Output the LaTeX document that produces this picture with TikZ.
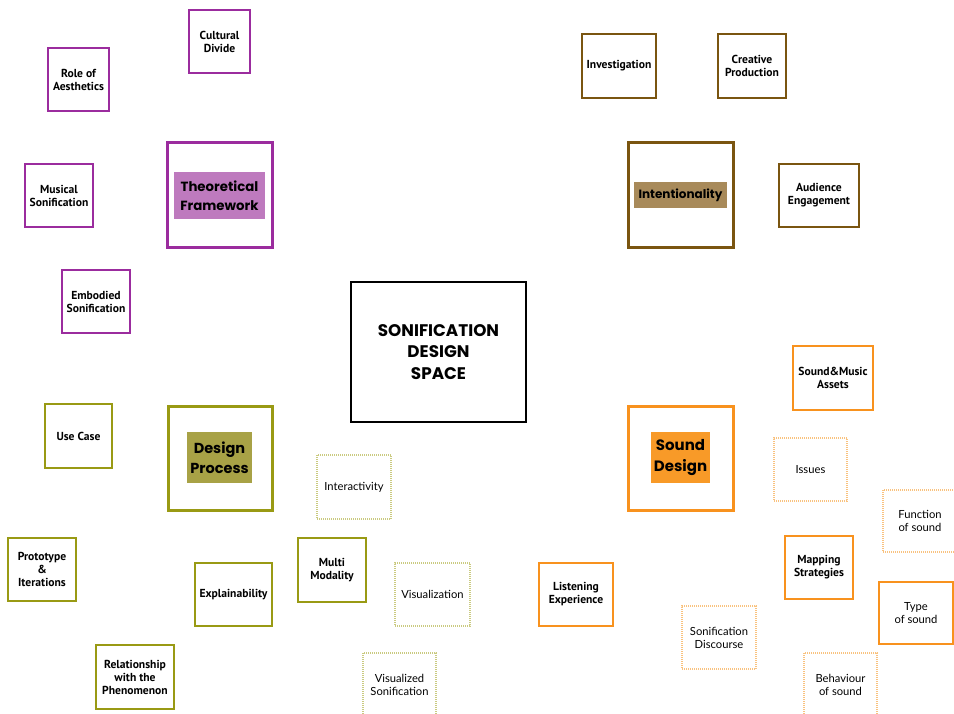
\documentclass[tikz,border=0pt]{standalone}
\usepackage{fontspec}
\setmainfont{PT Sans}
\newfontfamily\headfont{Poppins}
\newfontfamily\softfont{Lato}
\definecolor{plum}{HTML}{9B2C9E}
\definecolor{plumfill}{HTML}{BE7ABE}
\definecolor{umber}{HTML}{7A5510}
\definecolor{umberfill}{HTML}{A88A5A}
\definecolor{olive}{HTML}{999A14}
\definecolor{olivefill}{HTML}{A8A246}
\definecolor{olivelight}{HTML}{CACA80}
\definecolor{amber}{HTML}{F8921E}
\definecolor{amberfill}{HTML}{F89A28}
\definecolor{amberlight}{HTML}{F9C27F}
\tikzset{
  topic/.style={draw=#1, line width=2pt, fill=white, minimum width=68pt,
    minimum height=63pt, inner sep=1pt, align=center,
    font=\bfseries\fontsize{11.6}{13}\selectfont},
  soft/.style={draw=#1, line width=1.3pt, dash pattern=on 1pt off 1pt,
    fill=white, minimum width=74pt, minimum height=63pt, inner sep=1pt,
    align=center, font=\softfont\fontsize{11.2}{13}\selectfont},
  hub/.style={draw=#1, line width=3pt, fill=white, minimum width=105pt,
    minimum height=105pt, inner sep=0pt},
  hublabel/.style={fill=#1, inner sep=0pt, align=center,
    font=\headfont\bfseries\fontsize{13.3}{19}\selectfont},
}
\begin{document}
\begin{tikzpicture}[x=1pt, y=-1pt]
\useasboundingbox (0,0) rectangle (954,714);

% centre
\node[draw=black, line width=2.5pt, minimum width=175pt, minimum height=140pt,
  align=center, font=\headfont\bfseries\fontsize{16.8}{21.5}\selectfont]
  (space) at (438.5,352) {SONIFICATION\\DESIGN\\SPACE};

% Theoretical Framework
\node[hub=plum] (tfbox) at (219.5,195.5) {};
\node[hublabel=plumfill, minimum width=91pt, minimum height=47pt] (tf) at (219.5,195.5) {Theoretical\\Framework};
\node[topic=plum, minimum width=61pt] (culture) at (219.5,41.5) {Cultural\\Divide};
\node[topic=plum, minimum width=61pt] (aesthetics) at (78.5,79.5) {Role of\\Aesthetics};
\node[topic=plum] (musical) at (59,195.5) {Musical\\Sonification};
\node[topic=plum] (embodied) at (96,301.5) {Embodied\\Sonification};

% Intentionality
\node[hub=umber] (intbox) at (680.5,195.5) {};
\node[hublabel=umberfill, minimum width=93pt, minimum height=26pt,
  font=\headfont\bfseries\fontsize{12}{14}\selectfont] (intent) at (680.5,195) {Intentionality};
\node[topic=umber, minimum width=74pt, minimum height=64pt] (investigation) at (619,66) {Investigation};
\node[topic=umber, minimum height=64pt] (creative) at (752,66) {Creative\\Production};
\node[topic=umber, minimum width=80pt] (audience) at (819,195.5) {Audience\\Engagement};

% Design Process
\node[hub=olive, minimum width=104pt, minimum height=104pt] (dpbox) at (220,458) {};
\node[hublabel=olivefill, minimum width=65pt, minimum height=51pt,
  font=\headfont\bfseries\fontsize{14.5}{20}\selectfont] (dp) at (219.5,457.5) {Design\\Process};
\node[topic=olive, minimum width=67pt, minimum height=64pt] (usecase) at (78.5,436) {Use Case};
\node[topic=olive] (prototype) at (42,569.5) {Prototype\\\&\\Iterations};
\node[topic=olive, minimum width=77pt] (explain) at (233.5,594.5) {Explainability};
\node[topic=olive, minimum width=78pt, minimum height=64pt] (relation) at (135,677) {Relationship\\with the\\Phenomenon};
\node[topic=olive, minimum height=64pt] (multi) at (332,570) {Multi\\Modality};
\node[soft=olivelight, minimum height=64pt] (interact) at (354,487) {Interactivity};
\node[soft=olivelight, minimum width=75pt] (visual) at (432.5,594.5) {Visualization};
\node[soft=olivelight, minimum width=73pt, minimum height=64pt] (visson) at (399.5,685) {Visualized\\Sonification};

% Sound Design
\node[hub=amber, minimum height=104pt] (sdbox) at (680.5,458) {};
\node[hublabel=amberfill, minimum width=59pt, minimum height=51pt,
  font=\headfont\bfseries\fontsize{15}{21}\selectfont] (sd) at (680.5,457.5) {Sound\\Design};
\node[topic=amber, minimum width=80pt, minimum height=64pt] (assets) at (833,378) {Sound\&Music\\Assets};
\node[soft=amberlight, minimum width=73pt] (issues) at (810.5,469.5) {Issues};
\node[soft=amberlight, minimum height=62pt] (function) at (920,521) {Function\\of sound};
\node[topic=amber] (mapping) at (819,567.5) {Mapping\\Strategies};
\node[topic=amber, minimum width=74pt] (listening) at (576,594.5) {Listening\\Experience};
\node[topic=amber, line width=1.4pt, minimum width=74pt, minimum height=62pt,
  font=\softfont\fontsize{11.2}{13}\selectfont] (type) at (916,613) {Type\\of sound};
\node[soft=amberlight] (discourse) at (719,637.5) {Sonification\\Discourse};
\node[soft=amberlight, minimum width=73pt, minimum height=64pt] (behaviour) at (840.5,685) {Behaviour\\of sound};
\end{tikzpicture}
\end{document}
